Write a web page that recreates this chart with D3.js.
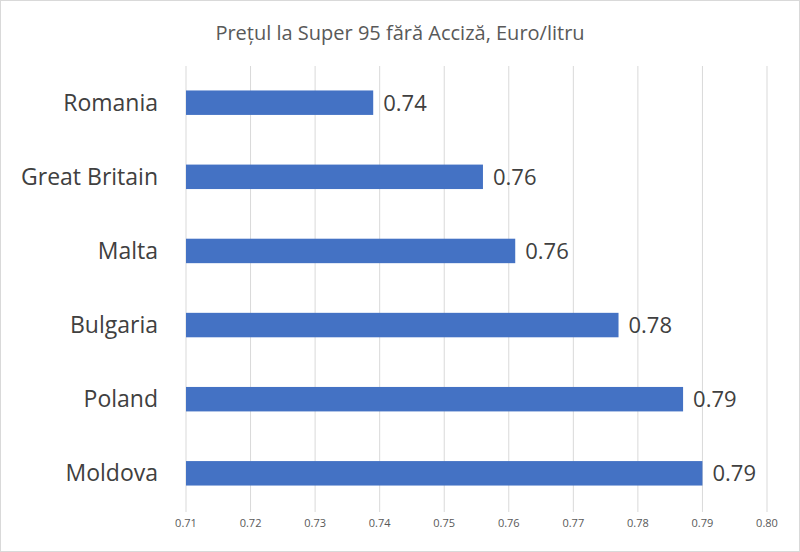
<!DOCTYPE html>
<html>
<head>
<meta charset="utf-8">
<script src="https://cdn.jsdelivr.net/npm/d3@7"></script>
<style>
  body { margin: 0; background: #fff; }
  text { font-family: "Open Sans", Calibri, sans-serif; }
</style>
</head>
<body>
<svg id="chart" width="800" height="552"></svg>
<script>
const countries = ["Romania", "Great Britain", "Malta", "Bulgaria", "Poland", "Moldova"];
const prices = [0.739, 0.756, 0.761, 0.777, 0.787, 0.790];
const labels = ["0.74", "0.76", "0.76", "0.78", "0.79", "0.79"];
const ticks = [0.71, 0.72, 0.73, 0.74, 0.75, 0.76, 0.77, 0.78, 0.79, 0.80];

const svg = d3.select("#chart");

// frame
svg.append("rect").attr("x", 0.5).attr("y", 0.5).attr("width", 799).attr("height", 551)
  .attr("fill", "#fff").attr("stroke", "#d9d9d9");

const x = d3.scaleLinear().domain([0.71, 0.80]).range([186, 767]);
const y = d3.scaleBand().domain(countries).range([66, 510]).paddingInner(0.67).paddingOuter(0.33);

// gridlines
svg.selectAll(".grid").data(ticks).enter().append("line")
  .attr("x1", d => x(d)).attr("x2", d => x(d))
  .attr("y1", 66).attr("y2", 512)
  .attr("stroke", "#d9d9d9").attr("stroke-width", 1);

// tick labels
svg.selectAll(".tick").data(ticks).enter().append("text")
  .attr("x", d => x(d)).attr("y", 527)
  .attr("text-anchor", "middle").attr("font-size", 11).attr("fill", "#595959")
  .text(d => d.toFixed(2));

// bars
svg.selectAll(".bar").data(countries).enter().append("rect")
  .attr("x", x(0.71)).attr("y", d => y(d))
  .attr("width", (d, i) => x(prices[i]) - x(0.71))
  .attr("height", y.bandwidth())
  .attr("fill", "#4472c4");

// value labels
svg.selectAll(".val").data(countries).enter().append("text")
  .attr("x", (d, i) => x(prices[i]) + 10)
  .attr("y", d => y(d) + y.bandwidth() / 2 + 8)
  .attr("font-size", 22).attr("fill", "#404040")
  .text((d, i) => labels[i]);

// category labels
svg.selectAll(".cat").data(countries).enter().append("text")
  .attr("x", 158).attr("y", d => y(d) + y.bandwidth() / 2 + 8)
  .attr("text-anchor", "end").attr("font-size", 23).attr("fill", "#404040")
  .text(d => d);

// title
svg.append("text").attr("x", 400).attr("y", 40)
  .attr("text-anchor", "middle").attr("font-size", 20).attr("fill", "#595959")
  .text("Prețul la Super 95 fără Acciză, Euro/litru");
</script>
</body>
</html>
